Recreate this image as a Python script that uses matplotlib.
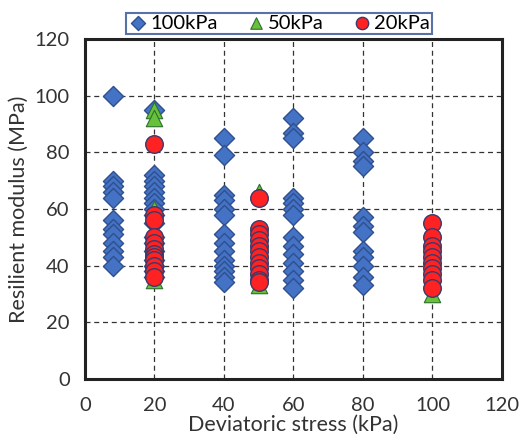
import matplotlib.pyplot as plt

plt.rcParams["font.family"] = ["Lato", "DejaVu Sans"]

# 100 kPa confining pressure
x_100 = [8] * 12 + [20] * 17 + [40] * 14 + [60] * 14 + [80] * 12
y_100 = [100, 70, 68, 66, 64, 56, 53, 51, 48, 45, 43, 40,
         95, 72, 70, 68, 66, 64, 62, 60, 58, 55, 50, 48, 45, 42, 40, 38, 36,
         85, 79, 65, 63, 60, 58, 51, 48, 45, 42, 40, 38, 36, 34,
         92, 87, 85, 64, 62, 60, 58, 50, 47, 44, 41, 38, 35, 32,
         85, 80, 77, 75, 57, 54, 52, 45, 43, 40, 36, 33]

# 50 kPa
x_50 = [20, 20, 20, 20, 50, 50, 50, 100, 100, 100]
y_50 = [95, 92, 60, 35, 66, 40, 33, 45, 35, 30]

# 20 kPa
x_20 = [20] * 12 + [50] * 12 + [100] * 10
y_20 = [83, 58, 56, 50, 48, 46, 44, 43, 42, 40, 38, 36,
        64, 53, 51, 49, 47, 45, 43, 41, 39, 37, 35, 34,
        55, 50, 47, 45, 43, 41, 39, 37, 35, 32]

fig = plt.figure(figsize=(5.21, 4.45), dpi=100)
ax = fig.add_axes([0.163, 0.149, 0.8005, 0.763])

ax.scatter(x_100, y_100, marker="D", s=105, c="#4472C4", edgecolors="#2F4F8F",
           linewidths=1, label="100kPa", zorder=3)
ax.scatter(x_50, y_50, marker="^", s=140, c="#66C23A", edgecolors="#2F6F2F",
           linewidths=0.8, label="50kPa", zorder=4)
ax.scatter(x_20, y_20, marker="o", s=160, c="#FF2222", edgecolors="#3A3A6A",
           linewidths=1, label="20kPa", zorder=5)

ax.set_xlim(0, 120)
ax.set_ylim(0, 120)
ax.set_xticks(range(0, 121, 20))
ax.set_yticks(range(0, 121, 20))
ax.grid(True, color="#333333", linestyle=(0, (4, 3)), linewidth=0.9)
ax.set_axisbelow(True)
ax.tick_params(labelsize=14.5, length=0, labelcolor="#333333")
ax.tick_params(axis="x", pad=13)
ax.tick_params(axis="y", pad=11)
for s in ax.spines.values():
    s.set_linewidth(2.2)
    s.set_color("#222222")

ax.set_xlabel("Deviatoric stress (kPa)", fontsize=15.5, color="#333333", labelpad=1)
ax.set_ylabel("Resilient modulus (MPa)", fontsize=15.5, color="#333333", labelpad=4)

leg = ax.legend(loc="lower center", bbox_to_anchor=(0.466, 1.016), ncol=3,
                fontsize=14.5, frameon=True, fancybox=False, borderpad=0.1,
                handletextpad=0.1, columnspacing=1.4, handlelength=1.0,
                markerscale=0.7, borderaxespad=0)
leg.get_frame().set_edgecolor("#2F4F8F")
leg.get_frame().set_linewidth(1.5)
leg.set_zorder(10)

fig.savefig("out.png", dpi=100)
